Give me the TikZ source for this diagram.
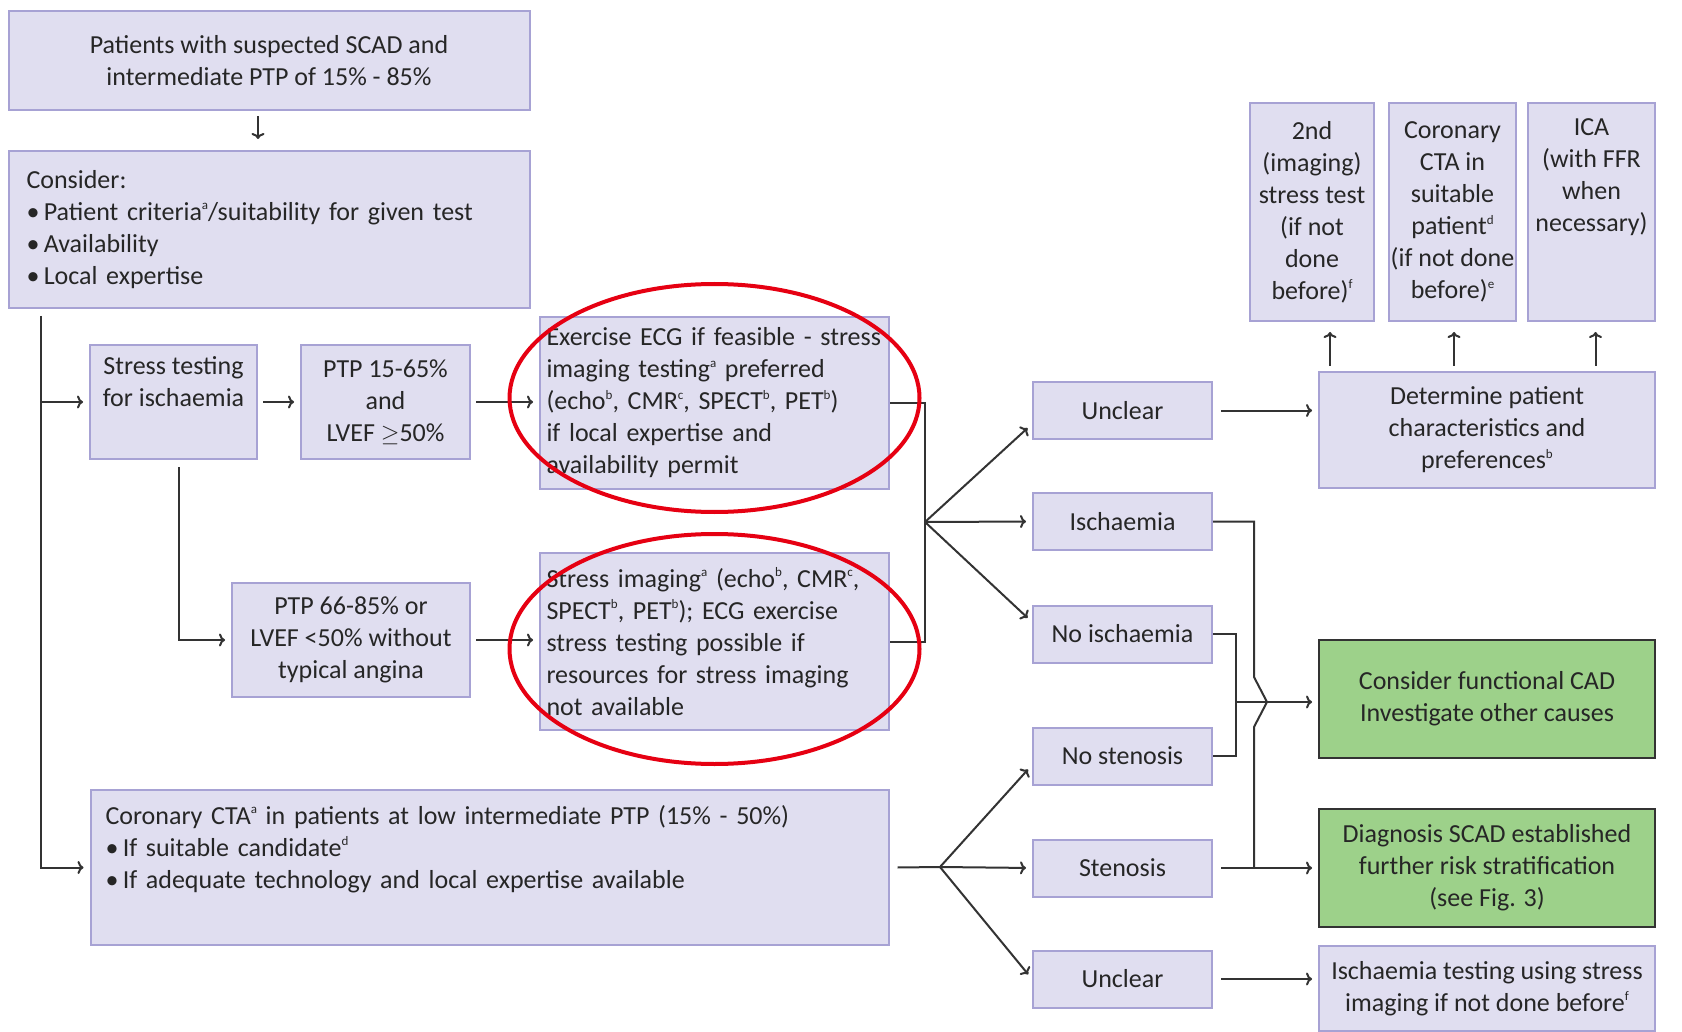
\documentclass[tikz,border=0pt]{standalone}
\usepackage{fontspec}
\setmainfont{Carlito}
\usetikzlibrary{positioning,arrows.meta,calc}
\definecolor{BoxFill}{HTML}{E0DEF0}
\definecolor{BoxLine}{HTML}{A7A2D4}
\definecolor{GoodFill}{HTML}{9DD18A}
\definecolor{LineGray}{HTML}{333333}
\definecolor{TextDark}{HTML}{262626}
\definecolor{RingRed}{HTML}{E60012}
\newcommand{\fnmark}[1]{\raisebox{0.85ex}{\fontsize{6.5}{6.5}\selectfont #1}}

\begin{document}
\begin{tikzpicture}[x=0.5pt, y=-0.5pt,
    box/.style={draw=BoxLine, line width=1pt, fill=BoxFill, align=center,
                inner sep=3pt, text=TextDark,
                font=\fontsize{13}{16}\selectfont},
    lbox/.style={box, align=left},
    outc/.style={box, minimum width=89.5pt, minimum height=28.5pt},
    topbox/.style={box, inner xsep=1pt, minimum height=109pt},
    goodbox/.style={box, draw=black!80, fill=GoodFill,
                    minimum width=168pt, minimum height=59pt},
    ln/.style={draw=LineGray, line width=1pt},
    ar/.style={ln, -{To[length=3pt,width=6.5pt]}, shorten >=3pt},
    ring/.style={draw=RingRed, line width=2pt},
  ]
    \fill[white] (0,0) rectangle (1682,1032);
    \useasboundingbox (0,0) rectangle (1682,1032);

    % ── Left column: patients → consider → tests ─────────────────────────
    \node[box, minimum width=260.5pt, minimum height=49.5pt] (sp) at (269,61)
      {Patients with suspected SCAD and\\intermediate PTP of 15\% - 85\%};
    \node[lbox, text width=242.5pt, inner xsep=9pt, minimum height=78.5pt] (co)
      at (269,229.5)
      {Consider:\\\textbullet\,Patient criteria\fnmark{a}/suitability for given test\\
       \textbullet\,Availability\\\textbullet\,Local expertise};

    \node[box, minimum width=83.5pt, minimum height=57pt] (st) at (173.5,402)
      {Stress testing\\for ischaemia\\\strut};
    \node[box, minimum width=84.5pt, minimum height=57pt] (p1) at (385.5,402)
      {PTP 15-65\%\\and\\LVEF $\geq$50\%};
    \node[box, minimum width=119pt, minimum height=57pt] (p2) at (351,640)
      {PTP 66-85\% or\\LVEF <50\% without\\typical angina};

    \node[lbox, text width=168pt, inner xsep=3.25pt, minimum height=86pt] (ex)
      at (714.5,403)
      {Exercise ECG if feasible - stress\\imaging testing\fnmark{a} preferred\\
       (echo\fnmark{b}, CMR\fnmark{c}, SPECT\fnmark{b}, PET\fnmark{b})\\
       if local expertise and\\availability permit};
    \node[lbox, text width=168pt, inner xsep=3.25pt, minimum height=88.5pt] (si)
      at (714.5,641.5)
      {Stress imaging\fnmark{a} (echo\fnmark{b}, CMR\fnmark{c},\\
       SPECT\fnmark{b}, PET\fnmark{b}); ECG exercise\\stress testing possible if\\
       resources for stress imaging\\not available};

    \node[lbox, text width=384pt, inner xsep=7.5pt, minimum height=77.5pt] (cta)
      at (489.5,867.5)
      {Coronary CTA\fnmark{a} in patients at low intermediate PTP (15\% - 50\%)\\
       \textbullet\,If suitable candidate\fnmark{d}\\
       \textbullet\,If adequate technology and local expertise available\\\strut};

    % ── Outcomes ─────────────────────────────────────────────────────────
    \node[outc] (ua) at (1122.5,410.5) {Unclear};
    \node[outc] (is) at (1122.5,521.5) {Ischaemia};
    \node[outc] (ni) at (1122.5,634)   {No ischaemia};
    \node[outc] (ns) at (1122.5,756)   {No stenosis};
    \node[outc] (sn) at (1122.5,868)   {Stenosis};
    \node[outc] (ub) at (1122.5,979)   {Unclear};

    % ── Right column ─────────────────────────────────────────────────────
    \node[box, minimum width=168pt, minimum height=58pt] (dt) at (1487,430)
      {Determine patient\\characteristics and\\preferences\fnmark{b}};
    \node[topbox, minimum width=62pt] (ta) at (1312,212)
      {2nd\\(imaging)\\stress test\\(if not\\done\\before)\fnmark{f}};
    \node[topbox, minimum width=63.5pt] (tb) at (1452.5,212)
      {Coronary\\CTA in\\suitable\\patient\fnmark{d}\\(if not done\\before)\fnmark{e}};
    \node[topbox, minimum width=63.5pt] (tc) at (1591.5,212)
      {ICA\\(with FFR\\when\\necessary)\\\strut\\\strut};

    \node[goodbox] (g1) at (1487,699)
      {Consider functional CAD\\Investigate other causes};
    \node[goodbox] (g2) at (1487,868)
      {Diagnosis SCAD established\\further risk stratification\\(see Fig. 3)};
    \node[box, minimum width=168pt, minimum height=42.5pt] (it) at (1487,988.5)
      {Ischaemia testing using stress\\imaging if not done before\fnmark{f}};

    % ── Arrows, left part ────────────────────────────────────────────────
    \draw[ar] ([xshift=-5.5pt,yshift=-2.5pt]sp.south)
      -- ([xshift=-5.5pt,yshift=2.5pt]co.north);
    \coordinate (spine) at (41,316);
    \draw[ar] (spine) |- (cta.west);
    \draw[ar] (spine |- st.west) -- (st.west);
    \foreach \a/\b in {st/p1, p1/ex, p2/si}
      \draw[ar] ([xshift=2.5pt]\a.east) -- (\a.east -| \b.west);
    \draw[ar] ([xshift=2.75pt,yshift=-3.5pt]st.south) |- (p2.west);

    % ── Fans to outcomes ─────────────────────────────────────────────────
    \coordinate (fan1) at (925,522);
    \draw[ln] (ex.east) -| (fan1) |- (si.east);
    \draw[ar] (fan1) -- ([yshift=-6.75pt]ua.west);
    \draw[ar] (fan1) -- (is.west);
    \draw[ar] (fan1) -- ([yshift=6pt]ni.west);

    \coordinate (fan2) at (940,867);
    \draw[ln] ([xshift=4pt]cta.east) -- (fan2);
    \draw[ar] (fan2) -- ([yshift=-4.5pt]ns.west);
    \draw[ar] (fan2) -- (sn.west);
    \draw[ar] (fan2) -- (ub.west);

    % ── Arrows, right part ───────────────────────────────────────────────
    \draw[ar] ([xshift=4pt]ua.east) -- (ua.east -| dt.west);
    \foreach \t/\s in {ta/9pt, tb/0.75pt, tc/2pt}
      \draw[ar] ([xshift=\s,yshift=2.5pt]dt.north -| \t.south)
        -- ([xshift=\s,yshift=-2pt]\t.south);

    \coordinate (hop) at (1254,702);
    \draw[ln] (is.east) -| ([yshift=12.5pt]hop) -- ([xshift=6.5pt]hop)
      -- ([yshift=-12.5pt]hop) -- (hop |- sn.east);
    \draw[ar] ([xshift=4pt]sn.east) -- (sn.east -| g2.west);

    \coordinate (merge) at (1236,702);
    \draw[ln] (ni.east) -| (merge) |- (ns.east);
    \draw[ar] (merge) -- (merge -| g1.west);

    \draw[ar] ([xshift=4pt]ub.east) -- (ub.east -| it.west);

    % ── Red rings ────────────────────────────────────────────────────────
    \draw[ring] ([yshift=2.5pt]ex.center) ellipse [x radius=102.5pt, y radius=57pt];
    \draw[ring] ([yshift=-3.75pt]si.center) ellipse [x radius=102.5pt, y radius=57.5pt];
  \end{tikzpicture}
\end{document}
